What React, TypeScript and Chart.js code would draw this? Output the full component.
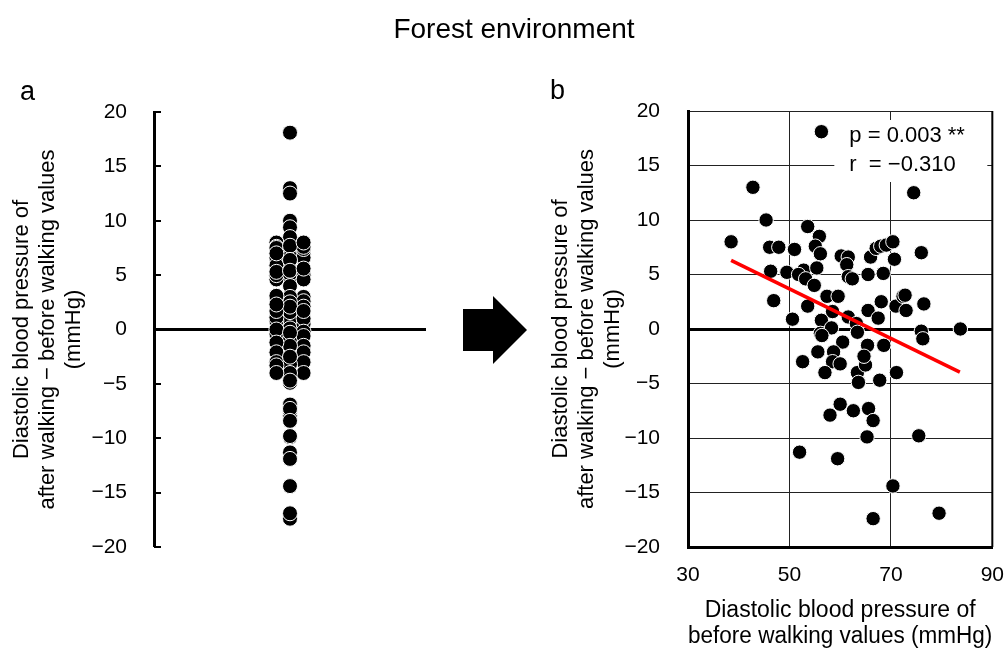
import { useEffect, useRef } from "react";
import { Chart, registerables } from "chart.js";

Chart.register(...registerables);

const FONT = "'Liberation Sans', Arial, Helvetica, sans-serif";

// Diastolic blood pressure before walking (x) and change after - before (y)
const baselineDBP = [
  56.3, 42.8, 74.5, 45.4, 53.6, 55.9, 38.5, 55.1, 56.1, 46.1,
  47.9, 51.0, 60.2, 61.6, 61.3, 61.6, 62.4, 66.0, 67.1, 68.0,
  69.1, 70.4, 70.7, 65.5, 68.5, 76.0, 46.3, 49.5, 52.8, 51.8,
  53.2, 55.4, 54.9, 57.4, 59.6, 46.9, 53.6, 50.6, 58.5, 56.3,
  56.1, 58.3, 61.6, 63.2, 65.5, 67.5, 68.1, 71.0, 72.4, 72.8,
  73.0, 76.5, 76.0, 76.3, 83.7, 56.4, 63.4, 65.4, 68.6, 60.5,
  55.6, 58.7, 52.6, 58.5, 60.0, 57.0, 63.4, 63.6, 65.0, 64.7,
  67.8, 71.1, 60.0, 58.0, 62.6, 65.6, 66.5, 65.3, 75.5, 52.0,
  59.5, 70.4, 66.5, 79.5,
];
const changeDBP = [
  18.1, 13.0, 12.5, 10.0, 9.4, 8.5, 8.0, 7.6, 6.9, 7.5,
  7.5, 7.3, 6.7, 6.6, 5.9, 4.8, 4.6, 6.6, 7.4, 7.6,
  7.7, 8.0, 6.4, 5.0, 5.1, 7.0, 5.3, 5.2, 5.4, 5.0,
  4.6, 5.6, 4.0, 3.0, 3.0, 2.6, 2.1, 0.9, 1.6, 0.8,
  -0.4, 0.1, 1.1, 0.5, 1.7, 1.0, 2.5, 2.1, 3.0, 3.1,
  1.7, 2.3, -0.2, -0.9, 0.0, -0.6, -0.3, -1.5, -1.5, -1.2,
  -2.1, -2.1, -3.0, -3.0, -3.2, -4.0, -4.0, -4.9, -3.3, -2.5,
  -4.7, -4.0, -6.9, -7.9, -7.5, -7.3, -8.4, -9.9, -9.8, -11.3,
  -11.9, -14.4, -17.4, -16.9,
];

// regression line end points
const trendX = [38.5, 83.6];
const trendY = [6.3, -3.95];

const statLines = ["p = 0.003 **", "r  = \u22120.310"];
const yTitleLines = [
  "Diastolic blood pressure of",
  "after walking \u2212 before walking values",
  "(mmHg)",
];
const xTitleLines = ["Diastolic blood pressure of", "before walking values (mmHg)"];
const mainTitle = "Forest environment";
const panelLabels = ["a", "b"];

const fmt = (v: number) => (v < 0 ? "\u2212" + Math.abs(v) : String(v));

// dot-plot offsets: points in dense regions are spread over three columns
function swarmOffsets(values: number[], window: number, minCount: number): number[] {
  const order = values.map((_, i) => i).sort((a, b) => values[b] - values[a]);
  const cols = [0, -1, 1];
  const out = new Array(values.length).fill(0);
  let k = 0;
  for (const i of order) {
    const v = values[i];
    const count = values.filter((w) => Math.abs(w - v) <= window).length;
    if (count >= minCount) {
      out[i] = cols[k % 3];
      k++;
    } else {
      out[i] = 0;
    }
  }
  return out;
}

const innerTicks = {
  id: "innerTicks",
  afterDraw(chart: any) {
    const y = chart.scales.y;
    const ctx = chart.ctx;
    const left = chart.chartArea.left;
    ctx.save();
    ctx.strokeStyle = "#000";
    ctx.lineWidth = 2;
    y.ticks.forEach((t: any) => {
      const py = Math.round(y.getPixelForValue(t.value));
      ctx.beginPath();
      ctx.moveTo(left, py);
      ctx.lineTo(left + 7, py);
      ctx.stroke();
    });
    ctx.restore();
  },
};

const statBox = {
  id: "statBox",
  beforeDatasetsDraw(chart: any) {
    const { ctx, chartArea } = chart;
    ctx.save();
    ctx.fillStyle = "#fff";
    ctx.fillRect(chartArea.right - 158, chartArea.top + 9, 153, 62);
    ctx.fillStyle = "#000";
    ctx.font = `22px ${FONT}`;
    ctx.textBaseline = "middle";
    ctx.textAlign = "left";
    statLines.forEach((l, i) => {
      ctx.fillText(l, chartArea.right - 143, chartArea.top + 25 + i * 29);
    });
    ctx.restore();
  },
};

const frameRight = {
  id: "frameRight",
  afterDatasetsDraw(chart: any) {
    const { ctx, chartArea } = chart;
    ctx.save();
    ctx.strokeStyle = "#000";
    ctx.lineWidth = 2;
    ctx.beginPath();
    ctx.moveTo(chartArea.right, chartArea.top);
    ctx.lineTo(chartArea.right, chartArea.bottom);
    ctx.stroke();
    ctx.restore();
  },
};

export default function App() {
  const refA = useRef<HTMLCanvasElement>(null);
  const refB = useRef<HTMLCanvasElement>(null);

  useEffect(() => {
    Chart.defaults.font.family = FONT;
    Chart.defaults.color = "#000";

    const offsets = swarmOffsets(changeDBP, 1.0, 7);
    const swarm = changeDBP.map((v, i) => ({ x: offsets[i], y: v }));

    const chartA = new Chart(refA.current!, {
      type: "scatter",
      data: {
        datasets: [
          {
            data: swarm,
            pointRadius: 7.5,
            pointBackgroundColor: "#000",
            pointBorderColor: "#fff",
            pointBorderWidth: 1,
          },
        ],
      },
      options: {
        animation: false,
        responsive: false,
        layout: { padding: { left: 0, top: 112, right: 34, bottom: 101 } },
        plugins: { legend: { display: false }, tooltip: { enabled: false } },
        scales: {
          x: { type: "linear", display: false, min: -10, max: 10 },
          y: {
            type: "linear",
            min: -20,
            max: 20,
            afterFit: (s: any) => {
              s.width = 154;
            },
            ticks: { stepSize: 5, padding: 27, font: { size: 21 }, callback: (v: any) => fmt(Number(v)) },
            border: { display: true, color: "#000", width: 3 },
            grid: {
              drawTicks: false,
              color: (c: any) => (c.tick && c.tick.value === 0 ? "#000" : "rgba(0,0,0,0)"),
              lineWidth: (c: any) => (c.tick && c.tick.value === 0 ? 3 : 0),
            },
            title: {
              display: true,
              text: yTitleLines,
              font: { size: 22, lineHeight: 26 / 22 },
              padding: { top: 9, bottom: 0 },
            },
          },
        },
      },
      plugins: [innerTicks],
    } as any);

    const points = baselineDBP.map((x, i) => ({ x, y: changeDBP[i] }));
    const trend = trendX.map((x, i) => ({ x, y: trendY[i] }));

    const chartB = new Chart(refB.current!, {
      type: "scatter",
      data: {
        datasets: [
          {
            data: trend,
            showLine: true,
            borderColor: "#ff0000",
            borderWidth: 3.5,
            pointRadius: 0,
            order: 0,
          },
          {
            data: points,
            pointRadius: 7.2,
            pointBackgroundColor: "#000",
            pointBorderColor: "#fff",
            pointBorderWidth: 1,
            order: 1,
          },
        ],
      },
      options: {
        animation: false,
        responsive: false,
        layout: { padding: { left: 0, top: 111, right: 25, bottom: 2 } },
        plugins: { legend: { display: false }, tooltip: { enabled: false } },
        scales: {
          x: {
            type: "linear",
            min: 30,
            max: 90,
            afterFit: (s: any) => {
              s.height = 103;
            },
            ticks: { stepSize: 20, padding: 16, font: { size: 21 }, callback: (v: any) => fmt(Number(v)) },
            border: { display: true, color: "#000", width: 3 },
            grid: { drawTicks: false, color: "#222", lineWidth: 1 },
            title: {
              display: true,
              text: xTitleLines,
              font: { size: 23, lineHeight: 26 / 23 },
              padding: { top: 0, bottom: 0 },
            },
          },
          y: {
            type: "linear",
            min: -20,
            max: 20,
            afterFit: (s: any) => {
              s.width = 148;
            },
            ticks: { stepSize: 5, padding: 28, font: { size: 21 }, callback: (v: any) => fmt(Number(v)) },
            border: { display: true, color: "#000", width: 3 },
            grid: {
              drawTicks: false,
              color: (c: any) => (c.tick && c.tick.value === 0 ? "#000" : "#222"),
              lineWidth: (c: any) => (c.tick && c.tick.value === 0 ? 3 : 1),
            },
            title: {
              display: true,
              text: yTitleLines,
              font: { size: 22, lineHeight: 26 / 22 },
              padding: { top: 8, bottom: 0 },
            },
          },
        },
      },
      plugins: [statBox, frameRight],
    } as any);

    return () => {
      chartA.destroy();
      chartB.destroy();
    };
  }, []);

  return (
    <div
      style={{
        position: "absolute",
        left: 0,
        top: 0,
        width: 1006,
        height: 648,
        overflow: "hidden",
        background: "#fff",
        fontFamily: FONT,
        color: "#000",
      }}
    >
      <div style={{ position: "absolute", left: 0, top: 0, width: 460, height: 648 }}>
        <canvas ref={refA} width={460} height={648} style={{ width: 460, height: 648, display: "block" }} />
      </div>
      <div style={{ position: "absolute", left: 540, top: 0, width: 480, height: 652 }}>
        <canvas ref={refB} width={480} height={652} style={{ width: 480, height: 652, display: "block" }} />
      </div>
      <div
        style={{
          position: "absolute",
          left: 314,
          top: 15,
          width: 400,
          textAlign: "center",
          fontSize: 28,
          lineHeight: "28px",
          whiteSpace: "nowrap",
        }}
      >
        {mainTitle}
      </div>
      <div style={{ position: "absolute", left: 20, top: 78, fontSize: 27, lineHeight: "27px" }}>{panelLabels[0]}</div>
      <div style={{ position: "absolute", left: 550, top: 77, fontSize: 27, lineHeight: "27px" }}>{panelLabels[1]}</div>
      <svg style={{ position: "absolute", left: 0, top: 0 }} width={1006} height={648}>
        <polygon points="463,309 493,309 493,296 527,330 493,364 493,351 463,351" fill="#000" />
      </svg>
    </div>
  );
}
